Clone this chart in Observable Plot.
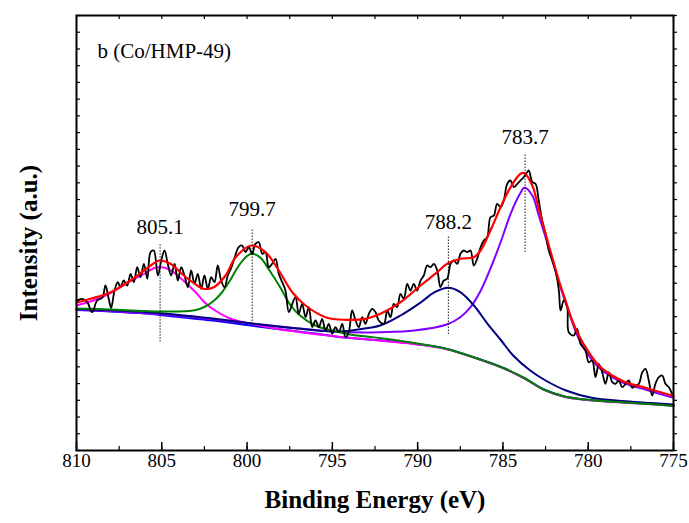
<!DOCTYPE html>
<html><head><meta charset="utf-8">
<script src="https://cdn.jsdelivr.net/npm/d3@7"></script>
<script src="https://cdn.jsdelivr.net/npm/@observablehq/plot@0.6"></script>
<style>body{margin:0;background:#fff;} svg{display:block}</style>
</head><body><div id="chart"></div>
<script>
// Raw spectrum (binding energy eV, intensity a.u.)
const rawBE = [810, 809.96, 809.67, 809.37, 809.08, 808.79, 808.49, 808.30, 808.11, 807.97,
807.77, 807.58, 807.42, 807.23, 807.03, 806.83, 806.64, 806.44, 806.25, 806.05,
805.85, 805.66, 805.47, 805.23, 805.03, 804.84, 804.65, 804.45, 804.25, 804.06,
803.86, 803.67, 803.47, 803.28, 803.08, 802.89, 802.69, 802.50, 802.30, 802.10,
801.91, 801.72, 801.52, 801.32, 801.13, 800.94, 800.78, 800.49, 800.29, 800.09,
799.90, 799.70, 799.51, 799.31, 799.11, 798.92, 798.73, 798.53, 798.33, 798.14,
797.94, 797.75, 797.55, 797.35, 797.16, 796.97, 796.77, 796.57, 796.38, 796.18,
795.99, 795.79, 795.60, 795.40, 795.21, 795.01, 794.82, 794.62, 794.42, 794.23,
794.04, 793.84, 793.64, 793.45, 793.25, 793.06, 792.86, 792.66, 792.47, 792.28,
791.98, 791.78, 791.59, 791.40, 791.20, 791.01, 790.81, 790.61, 790.42, 790.23,
790.03, 789.83, 789.64, 789.44, 789.25, 789.05, 788.85, 788.66, 788.47, 788.27,
788.07, 787.88, 787.68, 787.49, 787.29, 787.09, 786.90, 786.71, 786.51, 786.31,
786.12, 785.92, 785.73, 785.53, 785.34, 785.14, 784.95, 784.75, 784.56, 784.36,
784.16, 783.97, 783.78, 783.58, 783.48, 783.28, 783.09, 782.90, 782.70, 782.50,
782.31, 782.11, 781.92, 781.72, 781.62, 781.43, 781.23, 781.14, 780.85, 780.65,
780.45, 780.16, 779.97, 779.77, 779.57, 779.38, 779.18, 778.99, 778.79, 778.59,
778.40, 778.21, 778.01, 777.81, 777.62, 777.42, 777.23, 777.03, 776.83, 776.64,
776.45, 776.25, 776.06, 775.86, 775.66, 775.47, 775.27, 775.08];
const rawI = [15.0, 15.0, 15.17, 14.83, 13.83, 15.0, 15.27, 16.5, 15.17, 14.27,
16.0, 16.83, 16.33, 17.0, 16.5, 17.67, 16.83, 18.33, 17.33, 18.67,
17.17, 19.83, 20.0, 17.5, 19.0, 20.0, 18.67, 17.5, 18.67, 17.0,
18.33, 17.5, 16.33, 18.0, 16.67, 17.67, 16.17, 17.5, 16.17, 17.33,
16.83, 18.5, 17.0, 16.33, 17.5, 18.2, 19.0, 20.33, 20.5, 19.83,
20.33, 19.67, 20.67, 20.83, 19.67, 19.83, 18.33, 18.67, 19.17, 17.67,
16.83, 16.0, 13.83, 14.67, 15.33, 13.67, 14.67, 13.33, 14.33, 12.33,
13.0, 12.33, 13.17, 12.0, 12.67, 11.67, 12.33, 11.83, 12.67, 11.33,
11.83, 14.0, 13.0, 12.33, 13.33, 12.67, 13.67, 14.17, 13.83, 13.0,
12.67, 14.0, 13.33, 14.67, 14.33, 15.67, 15.17, 16.67, 16.0, 16.67,
16.0, 17.0, 17.5, 18.5, 18.33, 18.67, 18.0, 16.33, 17.0, 17.17,
18.67, 19.0, 18.67, 19.67, 20.0, 19.83, 20.0, 18.5, 19.17, 20.33,
21.0, 21.33, 23.33, 23.5, 24.67, 24.33, 25.0, 26.67, 27.0, 26.33,
26.67, 27.0, 27.33, 27.83, 28.0, 26.83, 26.67, 25.0, 23.0, 21.67,
20.0, 19.0, 18.0, 16.0, 14.0, 15.0, 14.33, 11.83, 11.5, 12.17,
10.67, 10.0, 8.83, 9.0, 7.33, 8.67, 7.83, 6.67, 7.83, 6.83,
6.67, 7.0, 6.33, 6.67, 7.0, 6.27, 6.5, 6.67, 7.83, 8.17,
7.0, 5.5, 6.67, 7.33, 7.5, 6.67, 6.33, 5.67];

// Fit envelope
const envBE = [810, 809.18, 808.0, 806.83, 806.05, 805.27, 805.08, 804.49, 803.71, 802.92, 802.54, 801.95, 801.26, 800.68, 799.74, 798.92, 798.14, 797.35, 796.57, 795.4, 794.23, 793.06, 792.18, 791.0, 789.83, 788.85, 788.27, 787.49, 786.71, 786.31, 785.73, 785.14, 784.55, 783.97, 783.74, 783.28, 782.9, 782.5, 782.11, 781.72, 781.33, 780.94, 780.55, 779.97, 779.38, 778.59, 777.81, 776.64, 775.08, 775];
const envI = [14.8, 15.17, 15.83, 17.0, 18.0, 18.93, 19.0, 18.67, 17.5, 16.5, 16.17, 16.33, 17.5, 19.3, 20.5, 19.83, 18.0, 15.83, 14.5, 13.33, 13.07, 13.17, 13.67, 14.83, 16.5, 17.83, 18.67, 19.17, 19.33, 20.0, 22.0, 24.33, 26.33, 27.67, 27.73, 26.5, 24.17, 21.67, 19.33, 17.0, 15.0, 13.0, 11.5, 9.83, 8.5, 7.5, 6.83, 6.27, 5.5, 5.45];

// Background
const bgBE = [810, 808, 806, 804, 802, 800, 798, 796, 794.3, 792, 790, 788.4, 786.5, 784.9, 783.7, 782.6, 781.4, 780.2, 778.7, 776.7, 775];
const bgI = [14.05, 13.9, 13.7, 13.35, 13.0, 12.55, 12.1, 11.7, 11.3, 11.0, 10.63, 10.2, 9.2, 8.2, 7.2, 6.1, 5.4, 5.1, 4.9, 4.7, 4.5];

// Component 805.1 eV
const c805BE = [810, 809, 808, 807, 806, 805.5, 805.1, 804.5, 804, 803, 802.5, 802, 801, 800, 798, 795, 792, 790, 788.4, 786.5, 784.9, 783.7, 782.6, 781.4, 780.2, 778.7, 776.7, 775];
const c805I = [14.5, 15.0, 15.75, 16.8, 17.7, 18.2, 18.35, 18.05, 17.4, 15.8, 14.83, 14.15, 13.2, 12.75, 12.1, 11.45, 10.95, 10.6, 10.17, 9.17, 8.17, 7.17, 6.07, 5.37, 5.07, 4.87, 4.67, 4.47];

// Component 799.7 eV
const c799BE = [810, 808, 806, 804, 803, 802.5, 802, 801.5, 801, 800.5, 800, 799.7, 799.2, 798.7, 798, 797.5, 797, 796, 795, 794, 793, 792, 790, 788.4, 786.5, 784.9, 783.7, 782.6, 781.4, 780.2, 778.7, 776.7, 775];
const c799I = [14.2, 14.1, 13.95, 13.9, 14.05, 14.35, 14.9, 15.75, 17.0, 18.45, 19.45, 19.67, 19.25, 18.05, 16.15, 14.65, 13.65, 12.5, 12.0, 11.6, 11.4, 11.2, 10.7, 10.2, 9.2, 8.2, 7.2, 6.1, 5.4, 5.1, 4.9, 4.68, 4.45];

// Component 788.2 eV
const c788BE = [810, 806, 802, 799, 797, 795.5, 794.5, 793.5, 792.2, 791, 789.8, 789, 788.2, 787.5, 786.7, 785.9, 785.1, 784.4, 783.4, 782.5, 781.3, 779.8, 777.8, 775];
const c788I = [14.15, 13.85, 13.2, 12.55, 12.2, 11.95, 11.9, 12.1, 12.5, 13.5, 14.83, 15.83, 16.27, 15.83, 14.5, 12.67, 11.0, 9.5, 8.0, 7.0, 6.0, 5.27, 4.93, 4.6];

// Component 783.7 eV
const c783BE = [810, 805, 800, 797, 795, 793, 792.2, 790.2, 788.3, 787.5, 786.9, 786.3, 785.7, 785.1, 784.55, 784.0, 783.74, 783.28, 782.9, 782.5, 782.1, 781.7, 781.3, 780.9, 780.55, 779.97, 779.4, 778.6, 777.8, 776.6, 775.1, 775];
const c783I = [14.1, 13.6, 12.75, 12.2, 11.9, 11.8, 11.83, 12.0, 12.6, 13.33, 14.33, 16.0, 18.33, 21.0, 23.67, 25.67, 26.27, 25.5, 23.5, 21.33, 19.0, 16.67, 14.67, 12.67, 11.17, 9.5, 8.33, 7.33, 6.67, 6.07, 5.33, 5.3];

// Peak annotations
const peakBE = [805.1, 799.7, 788.2, 783.7];
const peakLabels = ["805.1", "799.7", "788.2", "783.7"];
const markerTop = [20.7, 22.2, 21.4, 29.7];
const markerBottom = [10.83, 12.6, 11.6, 19.8];
const labelI = [21.7, 23.5, 22.2, 30.7];

const xMajor = [810, 805, 800, 795, 790, 785, 780, 775];
const xMinor = d3.range(810, 774.9, -2.5);
const yMax = 43.5;
const yTicks = d3.range(27).map(i => i * yMax / 26);

const rows = (xs, ys) => xs.map((x, i) => ({be: x, v: ys[i]}));
const peaks = peakBE.map((b, i) => ({be: b, label: peakLabels[i], top: markerTop[i], bottom: markerBottom[i], ly: labelI[i]}));

const font = "'Liberation Serif','Times New Roman',Times,serif";
const smooth = "catmull-rom";

const chart = Plot.plot({
  width: 689, height: 523,
  marginLeft: 76, marginRight: 16, marginTop: 15, marginBottom: 73,
  style: {fontFamily: font, background: "#fff", color: "#000", overflow: "visible"},
  x: {domain: [810, 775]},
  y: {domain: [0, yMax]},
  marks: [
    // tick labels
    Plot.axisX({anchor: "bottom", ticks: xMajor, tickSize: 0, tickPadding: 3, fontSize: 19, label: null, tickFormat: d => String(d)}),
    // inward ticks
    Plot.axisX({anchor: "top", frameAnchor: "bottom", ticks: xMajor, tickSize: 9, strokeWidth: 1.5, tickFormat: () => "", label: null}),
    Plot.axisX({anchor: "top", frameAnchor: "bottom", ticks: xMinor, tickSize: 5, strokeWidth: 1.2, tickFormat: () => "", label: null}),
    Plot.axisX({anchor: "bottom", frameAnchor: "top", ticks: xMinor, tickSize: 4, strokeWidth: 1.2, tickFormat: () => "", label: null}),
    Plot.axisY({anchor: "right", frameAnchor: "left", ticks: yTicks, tickSize: 3, strokeWidth: 1.2, tickFormat: () => "", label: null}),
    Plot.axisY({anchor: "right", ticks: yTicks, tickSize: 3, strokeWidth: 1.2, tickFormat: () => "", label: null}),

    // background and components
    Plot.line(rows(bgBE, bgI), {x: "be", y: "v", stroke: "#0000ff", strokeWidth: 2, curve: smooth}),
    Plot.line(rows(c805BE, c805I), {x: "be", y: "v", stroke: "#ff00ff", strokeWidth: 2, curve: smooth}),
    Plot.line(rows(c783BE, c783I), {x: "be", y: "v", stroke: "#8000ff", strokeWidth: 2, curve: smooth}),
    Plot.line(rows(c788BE, c788I), {x: "be", y: "v", stroke: "#000080", strokeWidth: 2, curve: smooth}),
    Plot.line(rows(c799BE, c799I), {x: "be", y: "v", stroke: "#008000", strokeWidth: 2, curve: smooth}),
    // raw data
    Plot.line(rows(rawBE, rawI), {x: "be", y: "v", stroke: "#000", strokeWidth: 1.8, curve: smooth}),
    // envelope
    Plot.line(rows(envBE, envI), {x: "be", y: "v", stroke: "#ff0000", strokeWidth: 2.2, curve: smooth}),

    // peak markers
    Plot.ruleX(peaks, {x: "be", y1: "bottom", y2: "top", stroke: "#000", strokeWidth: 0.9, strokeDasharray: "1.5,1.5"}),
    Plot.text(peaks, {x: "be", y: "ly", text: "label", lineAnchor: "bottom", fontSize: 21, fill: "#000"}),

    // panel label
    Plot.text(["b (Co/HMP-49)"], {frameAnchor: "top-left", dx: 21, dy: 28, lineAnchor: "top", textAnchor: "start", fontSize: 21, fill: "#000"}),

    // axis titles
    Plot.text(["Binding Energy (eV)"], {frameAnchor: "bottom", dy: 40, lineAnchor: "top", fontSize: 25, fontWeight: "bold", fill: "#000"}),
    Plot.text(["Intensity (a.u.)"], {frameAnchor: "left", dx: -40, dy: 10, rotate: -90, textAnchor: "middle", lineAnchor: "bottom", fontSize: 25, fontWeight: "bold", fill: "#000"}),

    Plot.frame({stroke: "#000", strokeWidth: 2})
  ]
});
document.getElementById("chart").appendChild(chart);
</script>
</body></html>
